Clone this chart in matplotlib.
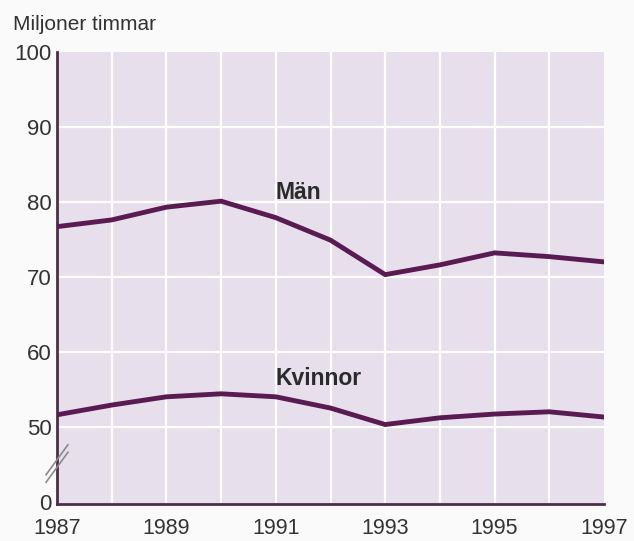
import matplotlib
matplotlib.use("Agg")
import matplotlib.pyplot as plt

# Data (million hours worked)
years = [1987, 1988, 1989, 1990, 1991, 1992, 1993, 1994, 1995, 1996, 1997]
men = [76.7, 77.6, 79.3, 80.1, 77.9, 74.9, 70.3, 71.6, 73.2, 72.7, 72.0]
women = [51.6, 52.9, 54.0, 54.4, 54.0, 52.5, 50.3, 51.2, 51.7, 52.0, 51.3]

# y-axis is broken: the 0 tick sits at 40 on the drawing scale
ytick_pos = [40, 50, 60, 70, 80, 90, 100]
ytick_labels = ["0", "50", "60", "70", "80", "90", "100"]
xtick_years = [1987, 1989, 1991, 1993, 1995, 1997]

LINE = "#5a1b52"
BG = "#e7e0ec"
TEXT = "#333333"

plt.rcParams["font.family"] = ["Liberation Sans", "DejaVu Sans"]

fig = plt.figure(figsize=(6.34, 5.41), dpi=100)
fig.patch.set_facecolor("#fbfafb")
ax = fig.add_axes([57 / 634, 1 - 504 / 541, 547 / 634, 452 / 541])
ax.set_facecolor(BG)

ax.set_xlim(1987, 1997)
ax.set_ylim(39.7, 100)

# white grid
for yr in years[1:-1]:
    ax.axvline(yr, color="white", lw=1.6, zorder=1)
for v in [50, 60, 70, 80, 90]:
    ax.axhline(v, color="white", lw=1.6, zorder=1)

ax.plot(years, men, color=LINE, lw=3.5, solid_joinstyle="round", zorder=3)
ax.plot(years, women, color=LINE, lw=3.5, solid_joinstyle="round", zorder=3)

ax.text(1991.0, 81.2, "Män", fontsize=16.5, fontweight="bold", color="#2a2a2a",
        va="center", ha="left")
ax.text(1991.0, 56.5, "Kvinnor", fontsize=16.5, fontweight="bold", color="#2a2a2a",
        va="center", ha="left")

ax.set_yticks(ytick_pos)
ax.set_yticklabels(ytick_labels)
ax.set_xticks(xtick_years)
ax.set_xticklabels([str(y) for y in xtick_years])
ax.tick_params(axis="y", length=0, pad=4, labelsize=16, labelcolor=TEXT)
ax.tick_params(axis="x", length=0, pad=10, labelsize=15.5, labelcolor=TEXT)

for side in ["top", "right"]:
    ax.spines[side].set_visible(False)
for side in ["left", "bottom"]:
    ax.spines[side].set_color("#4b2f48")
    ax.spines[side].set_linewidth(2)

# axis break marks
trans = ax.get_yaxis_transform()
for dy in [0, -1.0]:
    ax.plot([-0.02, 0.02], [43.6 + dy, 47.6 + dy], color="#8a8a8a", lw=1.2,
            transform=trans, clip_on=False, zorder=5)

fig.text(13 / 634, 1 - 24 / 541, "Miljoner timmar", fontsize=15,
         color=TEXT, va="center", ha="left")

fig.savefig("out.png", dpi=100, facecolor=fig.get_facecolor())
